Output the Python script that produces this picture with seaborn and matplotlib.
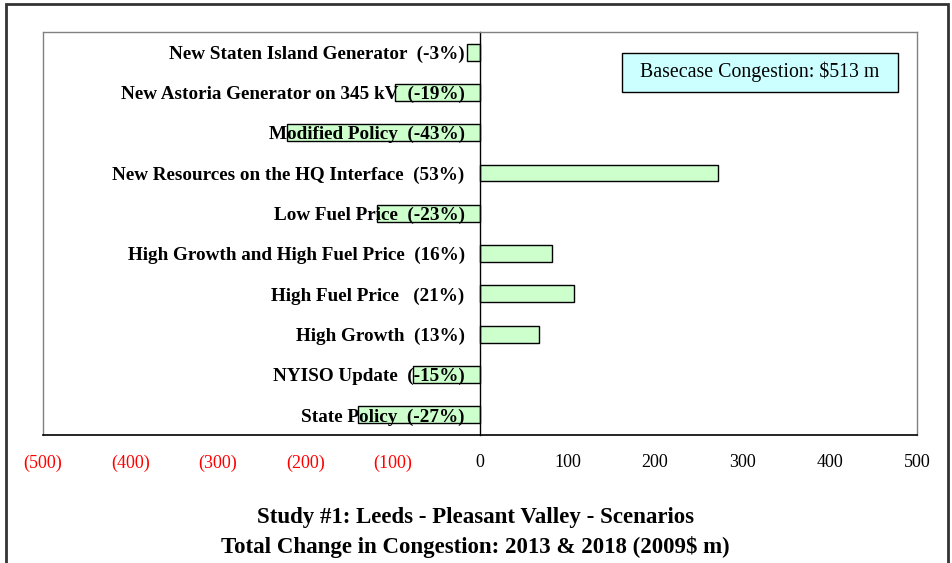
import numpy as np
import pandas as pd
import matplotlib
matplotlib.use("Agg")
import matplotlib.pyplot as plt
import seaborn as sns
from matplotlib.patches import Rectangle
from matplotlib.ticker import FixedLocator, FuncFormatter

scenarios = [
    "New Staten Island Generator  (-3%)",
    "New Astoria Generator on 345 kV  (-19%)",
    "Modified Policy  (-43%)",
    "New Resources on the HQ Interface  (53%)",
    "Low Fuel Price  (-23%)",
    "High Growth and High Fuel Price  (16%)",
    "High Fuel Price   (21%)",
    "High Growth  (13%)",
    "NYISO Update  (-15%)",
    "State Policy  (-27%)",
]
change = [-15, -97, -221, 272, -118, 82, 108, 67, -77, -139]
x_ticks = [-500, -400, -300, -200, -100, 0, 100, 200, 300, 400, 500]
basecase = "Basecase Congestion: $513 m"
title_lines = ["Study #1: Leeds - Pleasant Valley - Scenarios",
               "Total Change in Congestion: 2013 & 2018 (2009$ m)"]

df = pd.DataFrame({"scenario": scenarios, "change": change})

sns.set_style("white")
plt.rcParams["font.family"] = ["Liberation Serif", "DejaVu Serif"]
plt.rcParams["text.color"] = "black"
plt.rcParams["xtick.color"] = "black"
plt.rcParams["ytick.color"] = "black"

fig = plt.figure(figsize=(9.53, 5.63), dpi=100)
ax = fig.add_axes([0.0451, 0.2274, 0.9171, 0.7158])

sns.barplot(data=df, x="change", y="scenario", orient="h", color="#ccffcc",
            edgecolor="black", linewidth=1, width=0.42, saturation=1, ax=ax)

ax.set_xlim(-500, 500)
ax.set_ylim(len(scenarios) - 0.5, -0.5)
ax.set_xlabel("")
ax.set_ylabel("")
# labels sit on top of the bars, like the original
ax.set_axisbelow(False)

# y axis crosses at zero, ticks between categories
ax.spines["left"].set_position(("data", 0))
ax.spines["left"].set_color("black")
ax.spines["left"].set_linewidth(1)
for s in ["top", "right"]:
    ax.spines[s].set_color("#808080")
    ax.spines[s].set_linewidth(1)
ax.spines["bottom"].set_color("black")
ax.spines["bottom"].set_linewidth(1.2)
ax.plot([-500, -500], [-0.5, len(scenarios) - 0.5], color="#808080", lw=1,
        clip_on=False, zorder=0)

ax.yaxis.set_minor_locator(FixedLocator(np.arange(0.5, len(scenarios) - 0.5, 1)))
ax.tick_params(axis="y", which="major", length=0, pad=11)
ax.tick_params(axis="y", which="minor", length=4, width=1, color="black", direction="out")
for lab in ax.get_yticklabels():
    lab.set_fontweight("bold")
    lab.set_fontsize(13.8)
    lab.set_color("black")

ax.set_xticks(x_ticks)
ax.xaxis.set_major_formatter(FuncFormatter(lambda v, p: f"({abs(int(v))})" if v < 0 else f"{int(v)}"))
ax.tick_params(axis="x", length=5, width=1, color="black", direction="out", pad=9, labelsize=13)
for lab, v in zip(ax.get_xticklabels(), x_ticks):
    lab.set_color("red" if v < 0 else "black")

# basecase box
ax.add_patch(Rectangle((0.6625, 0.8511), 0.3158, 0.0968, transform=ax.transAxes,
                       facecolor="#ccffff", edgecolor="black", linewidth=1, zorder=5))
ax.text(0.8204, 0.9007, basecase, transform=ax.transAxes, ha="center", va="center",
        fontsize=14.3, zorder=6)

fig.text(0.4985, (563 - 518) / 563, title_lines[0], ha="center", va="center",
         fontsize=16.5, fontweight="bold")
fig.text(0.4985, (563 - 547) / 563, title_lines[1], ha="center", va="center",
         fontsize=16.5, fontweight="bold")

fig.patches.append(Rectangle((6 / 953, -0.01), 942 / 953, (559 / 563) + 0.01,
                             transform=fig.transFigure, fill=False,
                             edgecolor="#333333", linewidth=2))

fig.savefig("out.png", dpi=100)
